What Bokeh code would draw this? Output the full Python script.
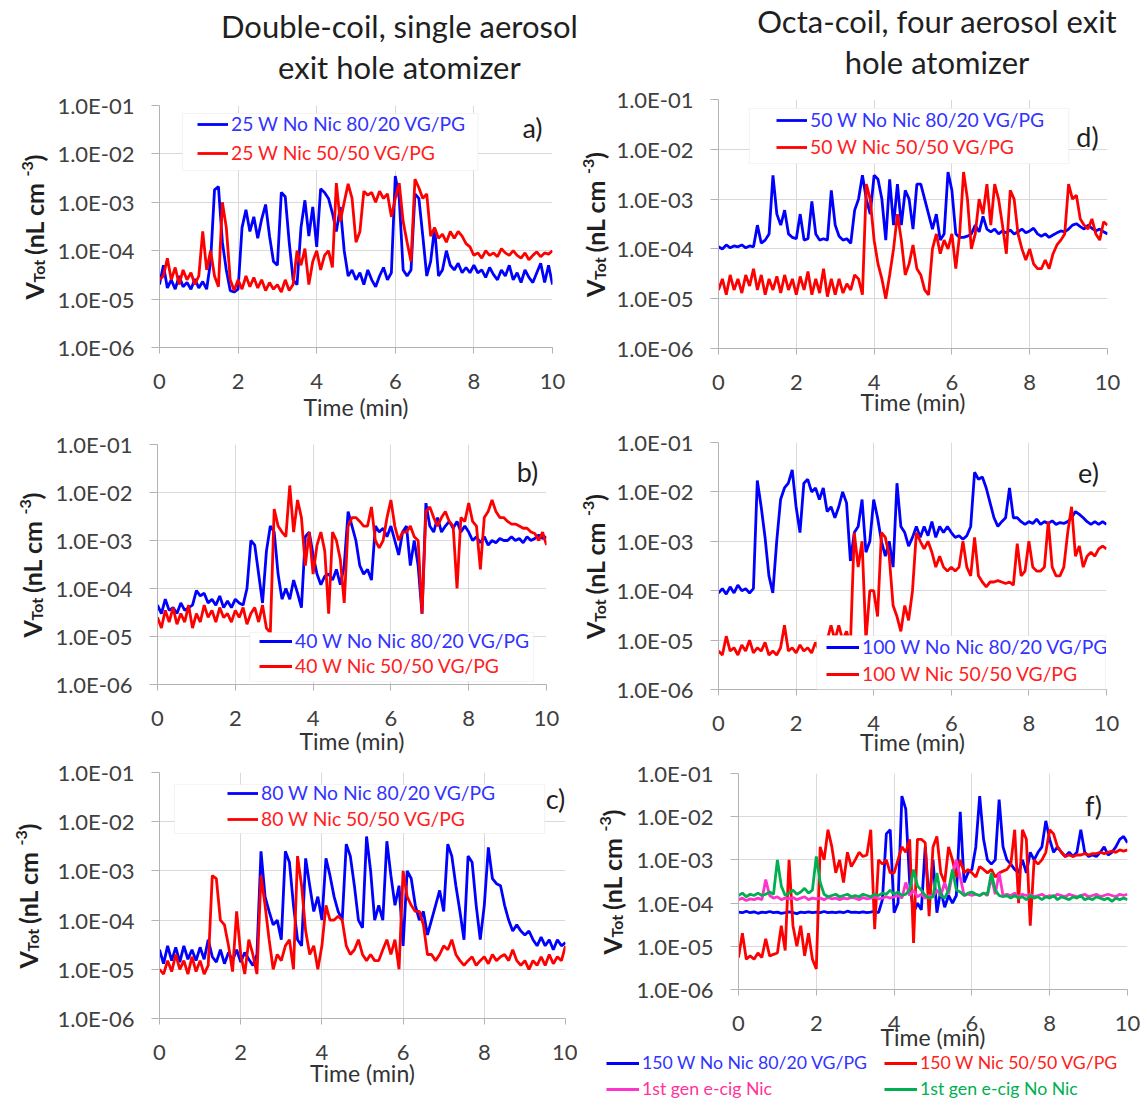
import math
from bokeh.plotting import figure
from bokeh.models import FixedTicker, Label, Legend, LegendItem, BoxAnnotation, Range1d, Div
from bokeh.layouts import column, row
from bokeh.embed import file_html
from bokeh.resources import INLINE

# ---------------- data (time in min, V_Tot in nL cm^-3) ----------------
TIME = [0.0, 0.1, 0.2, 0.3, 0.4, 0.5, 0.6, 0.7, 0.8, 0.9,
        1.0, 1.1, 1.2, 1.3, 1.4, 1.5, 1.6, 1.7, 1.8, 1.9,
        2.0, 2.1, 2.2, 2.3, 2.4, 2.5, 2.6, 2.7, 2.8, 2.9,
        3.0, 3.1, 3.2, 3.3, 3.4, 3.5, 3.6, 3.7, 3.8, 3.9,
        4.0, 4.1, 4.2, 4.3, 4.4, 4.5, 4.6, 4.7, 4.8, 4.9,
        5.0, 5.1, 5.2, 5.3, 5.4, 5.5, 5.6, 5.7, 5.8, 5.9,
        6.0, 6.1, 6.2, 6.3, 6.4, 6.5, 6.6, 6.7, 6.8, 6.9,
        7.0, 7.1, 7.2, 7.3, 7.4, 7.5, 7.6, 7.7, 7.8, 7.9,
        8.0, 8.1, 8.2, 8.3, 8.4, 8.5, 8.6, 8.7, 8.8, 8.9,
        9.0, 9.1, 9.2, 9.3, 9.4, 9.5, 9.6, 9.7, 9.8, 9.9,
        10.0]

A_BLUE = [2e-5, 5e-5, 1.7e-5, 2.5e-5, 1.6e-5, 3e-5, 1.8e-5, 2.2e-5, 1.6e-5, 2.6e-5,
          1.7e-5, 2.3e-5, 1.6e-5, 6e-5, 1.8e-3, 2.1e-3, 1.5e-4, 4e-5, 1.5e-5, 1.4e-5,
          1.6e-5, 3e-4, 7e-4, 2.5e-4, 5e-4, 1.8e-4, 4.5e-4, 9e-4, 2e-4, 6e-5,
          5e-5, 1.6e-3, 1.3e-3, 1.5e-4, 2.5e-5, 2e-5, 3e-4, 1.1e-3, 2e-4, 8e-4,
          1.2e-4, 1.9e-3, 1.6e-3, 1.2e-3, 6e-4, 2.5e-4, 8e-4, 1e-4, 3e-5, 4e-5,
          2.5e-5, 3.5e-5, 2e-5, 4e-5, 2.5e-5, 1.8e-5, 3e-5, 4.5e-5, 2.5e-5, 3.5e-5,
          3.5e-3, 1.2e-3, 4e-5, 3e-5, 4e-5, 1.5e-3, 1.2e-3, 2e-4, 3e-5, 6e-5,
          3e-4, 3e-5, 4e-5, 1e-4, 5e-5, 4e-5, 5.5e-5, 3.5e-5, 4.5e-5, 3.5e-5,
          5e-5, 3.5e-5, 4e-5, 2.8e-5, 4.5e-5, 3.2e-5, 2.5e-5, 4e-5, 3e-5, 5e-5,
          2.5e-5, 3.5e-5, 2.2e-5, 4e-5, 2.8e-5, 2.2e-5, 3.5e-5, 5.5e-5, 2.2e-5, 5e-5,
          2e-5]
A_RED = [2.5e-5, 3e-5, 7e-5, 2.5e-5, 4.5e-5, 2e-5, 4e-5, 2.5e-5, 3.5e-5, 2e-5,
         3e-5, 2.5e-4, 4e-5, 1e-4, 3e-5, 1.8e-5, 1e-3, 3e-4, 2.5e-5, 1.5e-5,
         2.5e-5, 1.6e-5, 3e-5, 1.8e-5, 2.8e-5, 1.7e-5, 2.5e-5, 1.5e-5, 2.2e-5, 1.6e-5,
         2e-5, 1.4e-5, 2.5e-5, 1.5e-5, 2e-5, 1e-4, 5e-5, 1.1e-4, 2e-5, 6e-5,
         1e-4, 4e-5, 8e-5, 1e-4, 4.5e-5, 2.5e-3, 4e-4, 1e-3, 2.4e-3, 1.2e-3,
         1.5e-4, 2.5e-4, 1.7e-3, 1.4e-3, 1.6e-3, 1e-3, 1.7e-3, 1.2e-3, 1.5e-3, 5e-4,
         1.2e-3, 2.5e-3, 4e-4, 1.5e-4, 6e-5, 3e-3, 2e-3, 1.2e-3, 1.5e-3, 2e-4,
         3e-4, 1.8e-4, 2.2e-4, 1.5e-4, 2.5e-4, 1.8e-4, 2.5e-4, 2e-4, 1.4e-4, 1.2e-4,
         8e-5, 9e-5, 7e-5, 1e-4, 8e-5, 9e-5, 7.5e-5, 1.1e-4, 9e-5, 8e-5,
         1e-4, 8e-5, 7e-5, 9e-5, 6.5e-5, 8e-5, 9.5e-5, 7.5e-5, 9e-5, 8.5e-5,
         1e-4]

B_BLUE = [4.5e-5, 3e-5, 6e-5, 3.5e-5, 4e-5, 3e-5, 5e-5, 3.5e-5, 4e-5, 4.5e-5,
          9e-5, 7e-5, 8e-5, 5e-5, 6e-5, 4.5e-5, 7e-5, 4e-5, 5.5e-5, 4e-5,
          6e-5, 5e-5, 4.5e-5, 1e-4, 1e-3, 8e-4, 2e-4, 5e-5, 6e-4, 2e-3,
          1.5e-3, 2e-4, 6e-5, 1e-4, 6e-5, 1.5e-4, 8e-5, 4e-5, 1.2e-3, 1.5e-3,
          5e-4, 2e-4, 1.2e-4, 1.8e-4, 2e-4, 1.5e-4, 2.5e-4, 1.2e-4, 3e-4, 4e-3,
          2e-3, 1e-3, 3e-4, 2e-4, 2.5e-4, 1.5e-4, 2e-3, 1.5e-3, 1.8e-3, 1.2e-3,
          2e-3, 1e-3, 5e-4, 1.5e-3, 2e-3, 3e-4, 1e-3, 3e-4, 3e-5, 6e-3,
          2e-3, 1.5e-3, 3e-3, 1.5e-3, 2e-3, 2.5e-3, 1.8e-3, 2.5e-3, 1.5e-3, 2e-3,
          1.5e-3, 1e-3, 1.2e-3, 9e-4, 1.2e-3, 8e-4, 1e-3, 9e-4, 1.1e-3, 1e-3,
          1e-3, 1.2e-3, 1e-3, 1.1e-3, 9e-4, 1.2e-3, 1e-3, 1.1e-3, 1.3e-3, 1.1e-3,
          1.2e-3]
B_RED = [2.5e-5, 1.5e-5, 3.5e-5, 2e-5, 4e-5, 1.8e-5, 3e-5, 2e-5, 4.5e-5, 1.5e-5,
         3e-5, 2e-5, 4.5e-5, 2.5e-5, 3.5e-5, 2e-5, 4e-5, 2.5e-5, 3e-5, 2e-5,
         3.5e-5, 2.5e-5, 4e-5, 1.8e-5, 3e-5, 4e-5, 2e-5, 4.5e-5, 1.5e-5, 1.2e-5,
         4.5e-3, 2e-3, 1.5e-3, 1.2e-3, 1.4e-2, 1.5e-3, 7e-3, 3e-3, 3e-4, 1.5e-3,
         2e-4, 8e-4, 1.5e-3, 6e-4, 3e-5, 1.5e-3, 1e-3, 4e-4, 5e-5, 2e-3,
         3e-3, 3e-3, 2.5e-3, 2e-3, 2e-3, 5e-3, 1e-3, 7e-4, 1e-3, 3e-3,
         7e-3, 2e-3, 1e-3, 1.5e-3, 1.5e-3, 2e-3, 1.2e-3, 1e-3, 3e-5, 4e-3,
         5e-3, 3e-3, 2e-3, 3e-3, 4e-3, 2.5e-3, 2e-3, 1e-4, 3e-3, 2.5e-3,
         6e-3, 2.5e-3, 2e-3, 2.5e-4, 3e-3, 4e-3, 7e-3, 4e-3, 3e-3, 3e-3,
         2.5e-3, 2.2e-3, 2.2e-3, 2e-3, 1.8e-3, 1.8e-3, 1.5e-3, 1.4e-3, 1e-3, 1.5e-3,
         8e-4]

C_BLUE = [2.5e-5, 1.3e-5, 3e-5, 1.5e-5, 2.8e-5, 1.4e-5, 3e-5, 1.6e-5, 2.5e-5, 1.5e-5,
          2.8e-5, 1.6e-5, 4e-5, 1.8e-5, 1.4e-5, 2.5e-5, 1.3e-5, 2.2e-5, 1.5e-5, 2.5e-5,
          1.4e-5, 2.2e-5, 1.6e-5, 1.2e-5, 2e-5, 2.5e-3, 3e-4, 1.5e-4, 8e-5, 1e-4,
          4e-5, 2.5e-3, 1.5e-3, 2e-4, 4e-5, 3e-5, 1.8e-3, 5e-4, 1.5e-4, 3e-4,
          1e-4, 1.8e-3, 8e-4, 3e-4, 1.5e-4, 1e-4, 3.5e-3, 2e-3, 5e-4, 1e-4,
          7e-5, 5e-3, 1e-3, 1e-4, 2e-4, 1e-4, 4e-3, 8e-4, 2e-4, 5e-4,
          3e-5, 1e-3, 7e-4, 2e-4, 1e-4, 1.5e-4, 5e-5, 1e-4, 2e-4, 4e-4,
          1.5e-4, 3.5e-3, 2e-3, 5e-4, 1.5e-4, 4e-5, 2e-3, 1.5e-3, 2e-4, 4e-5,
          2e-4, 3e-3, 7e-4, 5.5e-4, 5e-4, 2e-4, 1e-4, 6e-5, 8e-5, 6e-5,
          5e-5, 6e-5, 4e-5, 3e-5, 4.5e-5, 3e-5, 4e-5, 2.5e-5, 4e-5, 3e-5,
          3.5e-5]
C_RED = [1e-5, 8e-6, 1.5e-5, 9e-6, 2e-5, 1e-5, 1.5e-5, 8e-6, 1.8e-5, 9e-6,
         1.5e-5, 8e-6, 1.2e-5, 8e-4, 7e-4, 1e-4, 8e-5, 3e-5, 9e-6, 1.5e-4,
         2e-5, 8e-6, 4e-5, 2e-5, 8e-6, 8e-4, 2e-4, 4e-5, 1e-5, 2e-5,
         1.5e-5, 3e-5, 4e-5, 1e-5, 2e-3, 5e-4, 6e-5, 2e-5, 3e-5, 1e-5,
         3e-5, 2e-4, 1e-4, 1e-4, 1.2e-4, 1e-4, 3e-5, 2e-5, 2.5e-5, 4e-5,
         2e-5, 1.5e-5, 2e-5, 1.5e-5, 1.5e-5, 2.5e-5, 4e-5, 2e-5, 4e-5, 1e-5,
         1e-3, 3e-4, 2e-4, 1.5e-4, 1.5e-4, 8e-5, 2e-5, 2e-5, 1.5e-5, 2e-5,
         3e-5, 2.5e-5, 4e-5, 2e-5, 1.5e-5, 1.2e-5, 1.5e-5, 1.8e-5, 1.2e-5, 1.5e-5,
         1.8e-5, 1.3e-5, 2e-5, 1.5e-5, 1.8e-5, 2e-5, 1.5e-5, 2.5e-5, 1.5e-5, 1.2e-5,
         1.5e-5, 1e-5, 1.5e-5, 1.2e-5, 1.8e-5, 1.2e-5, 2e-5, 1.3e-5, 1.8e-5, 1.5e-5,
         3e-5]

D_BLUE = [1.1e-4, 1e-4, 1.2e-4, 1.05e-4, 1.15e-4, 1.1e-4, 1.2e-4, 1.05e-4, 1.15e-4, 1.1e-4,
          3e-4, 1.3e-4, 1.5e-4, 2e-4, 3e-3, 5e-4, 3e-4, 6e-4, 2e-4, 1.7e-4,
          1.6e-4, 5e-4, 1.5e-4, 1.6e-4, 9e-4, 2e-4, 1.5e-4, 1.6e-4, 1.5e-4, 1.5e-3,
          3e-4, 1.8e-4, 1.5e-4, 1.6e-4, 1.3e-4, 6e-4, 1e-3, 3e-3, 1e-3, 5e-4,
          3e-3, 2.5e-3, 1e-3, 1.5e-4, 2.5e-3, 3e-4, 2e-3, 3e-4, 1.5e-3, 1e-3,
          2.5e-4, 2e-3, 2e-3, 1e-3, 5e-4, 2.5e-4, 5e-4, 1.5e-4, 2e-4, 3.5e-3,
          1.5e-3, 2e-4, 1.7e-4, 1.7e-4, 1.8e-4, 2e-4, 3e-4, 2.2e-4, 4.5e-4, 2.5e-4,
          2.2e-4, 2.5e-4, 2e-4, 2.3e-4, 2.1e-4, 2.4e-4, 2e-4, 2.2e-4, 2.5e-4, 2.1e-4,
          2.3e-4, 2.6e-4, 2e-4, 1.8e-4, 2e-4, 1.7e-4, 1.9e-4, 2.1e-4, 2.3e-4, 2.2e-4,
          2.5e-4, 3e-4, 3.2e-4, 2.8e-4, 2.5e-4, 3e-4, 2.6e-4, 2.3e-4, 2.5e-4, 2.2e-4,
          2e-4]
D_RED = [1.5e-5, 2.5e-5, 1.2e-5, 3e-5, 1.5e-5, 2.5e-5, 1.3e-5, 3e-5, 1.8e-5, 4e-5,
         1.5e-5, 3e-5, 1.2e-5, 2.5e-5, 1.5e-5, 2.8e-5, 1.3e-5, 3e-5, 1.5e-5, 2.5e-5,
         1.2e-5, 2.8e-5, 1.5e-5, 3.5e-5, 1.2e-5, 2.5e-5, 1.3e-5, 4e-5, 1.1e-5, 2.5e-5,
         1.2e-5, 2.5e-5, 1.3e-5, 2e-5, 1.5e-5, 3e-5, 2.5e-5, 1.2e-5, 2e-3, 1e-3,
         1.5e-4, 5e-5, 2.5e-5, 1e-5, 3e-5, 1e-4, 5e-4, 1.5e-4, 3e-5, 5e-5,
         1.2e-4, 4e-5, 3e-5, 1.5e-5, 1.2e-5, 1e-4, 2e-4, 8e-5, 1.5e-4, 1e-4,
         2e-4, 4e-5, 2e-4, 3.5e-3, 1e-3, 1e-4, 2e-4, 1e-3, 5e-4, 2e-3,
         3e-4, 2e-3, 1e-3, 3e-4, 8e-5, 1.5e-3, 1e-3, 2e-4, 1e-4, 6e-5,
         1e-4, 5e-5, 4e-5, 4e-5, 6e-5, 4e-5, 8e-5, 1.2e-4, 1.5e-4, 2e-4,
         2e-3, 1e-3, 1.2e-3, 4e-4, 3e-4, 2.5e-4, 4e-4, 2e-4, 1.5e-4, 3.5e-4,
         3e-4]

E_BLUE = [9e-5, 1.1e-4, 8.5e-5, 1.2e-4, 9e-5, 1.3e-4, 1e-4, 1.1e-4, 9e-5, 1.1e-4,
          1.7e-2, 5e-3, 1.2e-3, 2e-4, 9e-5, 1e-3, 7e-3, 1.2e-2, 1.5e-2, 2.8e-2,
          5e-3, 1.5e-3, 1.5e-2, 1.8e-2, 1e-2, 1.2e-2, 7e-3, 1.2e-2, 4e-3, 5e-3,
          3e-3, 5e-3, 1e-2, 6e-3, 4e-4, 1.5e-3, 2e-3, 7e-3, 6e-4, 1e-3,
          7e-3, 3e-3, 1e-3, 5e-4, 1e-3, 3e-4, 1.5e-2, 2e-3, 1.5e-3, 8e-4,
          1.2e-3, 2e-3, 1.2e-3, 2e-3, 1.3e-3, 2.5e-3, 1.2e-3, 2e-3, 1.5e-3, 2e-3,
          1.5e-3, 1.2e-3, 1.3e-3, 1.1e-3, 1.3e-3, 2e-3, 2.5e-2, 1.8e-2, 2e-2, 1.2e-2,
          6e-3, 3e-3, 2e-3, 2.5e-3, 3e-3, 1.2e-2, 3e-3, 3e-3, 2.5e-3, 2.2e-3,
          2.5e-3, 2.3e-3, 2.8e-3, 2.2e-3, 2.5e-3, 2.3e-3, 2.6e-3, 2.2e-3, 2.4e-3, 2.3e-3,
          2.5e-3, 3e-3, 4e-3, 3.5e-3, 3e-3, 2.5e-3, 2.2e-3, 2.5e-3, 2.2e-3, 2.5e-3,
          2.2e-3]
E_RED = [6e-6, 5e-6, 1.2e-5, 6e-6, 7e-6, 5e-6, 8e-6, 6e-6, 1e-5, 5.5e-6,
         7e-6, 6e-6, 9e-6, 5e-6, 6e-6, 5e-6, 7e-6, 2e-5, 6e-6, 7e-6,
         5.5e-6, 8e-6, 6e-6, 7e-6, 5.5e-6, 9e-6, 6e-6, 6e-6, 1e-5, 2e-5,
         1e-5, 2e-5, 1e-5, 1.5e-5, 8e-6, 1.5e-3, 3e-4, 1e-3, 1e-5, 1e-4,
         1e-4, 3e-5, 1.5e-3, 1.2e-3, 5e-4, 5e-5, 3e-5, 1.5e-5, 5e-5, 2.5e-5,
         1e-4, 1.5e-3, 1e-3, 7e-4, 1e-3, 6e-4, 3e-4, 5e-4, 3e-4, 2.5e-4,
         3e-4, 2.5e-4, 3e-4, 1e-3, 3e-4, 2e-4, 1.2e-3, 2e-4, 1.5e-4, 1.2e-4,
         1.5e-4, 1.5e-4, 1.6e-4, 1.5e-4, 1.4e-4, 1.5e-4, 1.3e-4, 9e-4, 2e-4, 2.5e-4,
         1e-3, 3e-4, 2.5e-4, 2.5e-4, 3e-4, 2.5e-3, 3e-4, 2e-4, 2e-4, 3e-4,
         1.5e-3, 5e-3, 5e-4, 8e-4, 3e-4, 5e-4, 6e-4, 5e-4, 7e-4, 8e-4,
         7e-4]

F_BLUE = [6.2e-5, 6e-5, 6.5e-5, 6e-5, 6.3e-5, 5.8e-5, 6.2e-5, 6e-5, 6.4e-5, 6e-5,
          6.2e-5, 5.8e-5, 6e-5, 6.3e-5, 6e-5, 5.7e-5, 6.2e-5, 6e-5, 6.3e-5, 6e-5,
          6.2e-5, 6e-5, 6.4e-5, 6e-5, 6.2e-5, 6e-5, 6.3e-5, 6e-5, 6.5e-5, 6.1e-5,
          6.2e-5, 6e-5, 6.3e-5, 6e-5, 6.2e-5, 6.5e-5, 6e-5, 1.2e-4, 4e-3, 5e-3,
          6e-5, 1e-4, 3e-2, 1.5e-2, 3e-4, 6e-5, 1e-4, 7e-5, 2e-3, 1e-4,
          1e-3, 6e-5, 2e-4, 8e-5, 1.5e-4, 1e-4, 1.5e-4, 1.3e-2, 3e-4, 5e-4,
          6e-4, 2e-3, 3e-2, 3e-3, 1e-3, 8e-4, 1e-3, 2.5e-2, 2e-3, 1e-3,
          8e-4, 6e-4, 5e-4, 1e-3, 5e-4, 1.5e-3, 1e-3, 1.5e-3, 2e-3, 8e-3,
          3e-3, 1.5e-3, 2e-3, 1.5e-3, 1.2e-3, 1.5e-3, 1.2e-3, 1.5e-3, 5e-3, 1.5e-3,
          1.2e-3, 1.3e-3, 1.2e-3, 1.5e-3, 2e-3, 1.3e-3, 1.5e-3, 2e-3, 3e-3, 3.5e-3,
          2.5e-3]
F_RED = [5.5e-6, 2e-5, 5e-6, 6e-6, 5e-6, 7e-6, 5.5e-6, 1.5e-5, 6e-6, 6.5e-6,
         7e-6, 3e-5, 8e-6, 1e-3, 3e-5, 1e-5, 3e-5, 6e-6, 2e-5, 5e-6,
         3e-6, 2e-3, 1e-3, 5e-3, 2e-3, 5e-4, 1e-3, 3e-4, 1.5e-3, 7e-4,
         1e-3, 1.5e-3, 1.2e-3, 1.3e-3, 5e-3, 2.5e-5, 1e-3, 8e-4, 1e-3, 5e-4,
         5e-4, 1e-3, 2e-3, 1.5e-3, 3e-3, 1.2e-5, 3e-3, 3e-3, 2.5e-3, 5e-5,
         2e-3, 3.5e-3, 5e-4, 3e-4, 2e-3, 1e-3, 4e-4, 1e-3, 5e-4, 6e-4,
         5e-4, 4e-4, 7e-4, 6e-4, 5e-4, 6e-4, 4e-4, 5e-4, 5.5e-4, 6e-4,
         8e-4, 5e-3, 1e-4, 5e-3, 3e-3, 3e-5, 1e-3, 8e-4, 1e-3, 1.5e-3,
         5e-3, 4e-3, 2e-3, 1.5e-3, 1.2e-3, 1.3e-3, 1.2e-3, 1.3e-3, 1.3e-3, 1.4e-3,
         1.3e-3, 1.4e-3, 1.4e-3, 1.5e-3, 1.4e-3, 1.5e-3, 1.6e-3, 1.5e-3, 1.7e-3, 1.6e-3,
         1.7e-3]
F_PINK = [1.2e-4, 1.3e-4, 1.15e-4, 1.25e-4, 1.2e-4, 1.3e-4, 1.2e-4, 3.5e-4, 1.5e-4, 1.3e-4,
          1.4e-4, 1.2e-4, 1.3e-4, 1.25e-4, 1.35e-4, 1.2e-4, 1.3e-4, 1.4e-4, 1.2e-4, 1.3e-4,
          1.25e-4, 1.3e-4, 1.2e-4, 1.35e-4, 1.25e-4, 1.3e-4, 1.2e-4, 1.3e-4, 1.25e-4, 1.35e-4,
          1.3e-4, 1.2e-4, 1.35e-4, 1.25e-4, 1.3e-4, 1.4e-4, 1.25e-4, 1.3e-4, 1.4e-4, 1.3e-4,
          1.4e-4, 1.5e-4, 1.3e-4, 3e-4, 1.5e-4, 2e-4, 1.4e-4, 1.6e-4, 1.3e-4, 1.5e-4,
          1.4e-4, 2e-4, 1.5e-4, 3e-4, 1.6e-4, 5e-4, 1e-3, 4e-4, 1.5e-4, 1.6e-4,
          1.5e-4, 1.6e-4, 1.5e-4, 1.7e-4, 1.5e-4, 4e-4, 1.6e-4, 5e-4, 1.5e-4, 1.6e-4,
          1.5e-4, 1.7e-4, 1.4e-4, 1.6e-4, 1.5e-4, 1.6e-4, 1.4e-4, 1.5e-4, 1.6e-4, 1.4e-4,
          1.5e-4, 1.4e-4, 1.6e-4, 1.5e-4, 1.4e-4, 1.6e-4, 1.5e-4, 1.4e-4, 1.5e-4, 1.6e-4,
          1.4e-4, 1.5e-4, 1.6e-4, 1.4e-4, 1.5e-4, 1.6e-4, 1.5e-4, 1.4e-4, 1.6e-4, 1.5e-4,
          1.6e-4]
F_GREEN = [1.5e-4, 1.7e-4, 1.4e-4, 1.6e-4, 1.5e-4, 1.7e-4, 1.5e-4, 1.6e-4, 1.8e-4, 1.6e-4,
           1e-3, 2.5e-4, 1.5e-4, 1.7e-4, 2e-4, 1.6e-4, 1.8e-4, 2.2e-4, 1.7e-4, 2e-4,
           1.2e-3, 3e-4, 1.6e-4, 1.4e-4, 1.5e-4, 1.6e-4, 1.4e-4, 1.5e-4, 1.6e-4, 1.4e-4,
           1.5e-4, 1.4e-4, 1.6e-4, 1.5e-4, 1.4e-4, 1.6e-4, 1.5e-4, 1.7e-4, 1.6e-4, 2e-4,
           1.6e-4, 1.8e-4, 1.5e-4, 1.6e-4, 2e-4, 6e-4, 2.5e-4, 2e-4, 1.5e-4, 1.3e-4,
           1.4e-4, 5e-4, 1.5e-4, 1.3e-4, 2e-4, 6e-4, 2e-4, 1.8e-4, 1.5e-4, 1.7e-4,
           1.8e-4, 1.6e-4, 1.5e-4, 1.7e-4, 1.6e-4, 5e-4, 2e-4, 1.5e-4, 1.4e-4, 1.5e-4,
           1.3e-4, 1.5e-4, 1.3e-4, 1.4e-4, 1.2e-4, 1.5e-4, 1.3e-4, 1.4e-4, 1.2e-4, 1.4e-4,
           1.3e-4, 1.5e-4, 1.2e-4, 1.4e-4, 1.3e-4, 1.2e-4, 1.4e-4, 1.3e-4, 1.5e-4, 1.2e-4,
           1.3e-4, 1.2e-4, 1.4e-4, 1.3e-4, 1.2e-4, 1.3e-4, 1.1e-4, 1.3e-4, 1.2e-4, 1.3e-4,
           1.2e-4]

X_TICKS = [0, 2, 4, 6, 8, 10]
Y_TICKS = [1e-6, 1e-5, 1e-4, 1e-3, 1e-2, 1e-1]
Y_TICK_LABELS = ["1.0E-06", "1.0E-05", "1.0E-04", "1.0E-03", "1.0E-02", "1.0E-01"]

TITLE_LEFT = ["Double-coil, single aerosol", "exit hole atomizer"]
TITLE_RIGHT = ["Octa-coil, four aerosol exit", "hole atomizer"]

# ---------------- styling ----------------
FONT = "Lato"
BLUE, RED, PINK, GREEN = "#0000ff", "#ff0000", "#ff33cc", "#00b050"
BLUE_T, RED_T, PINK_T, GREEN_T = "#3333ff", "#ff2020", "#ff3399", "#00b050"
GRID = "#d9d9d9"
AXIS = "#b3b3b3"
TXT = "#404040"
DARK = "#1f1f1f"
LW = 2.8

LATO_BOLD = {"V": 0.68, "T": 0.59, "o": 0.57, "t": 0.37, " ": 0.22, "(": 0.32,
             "n": 0.57, "L": 0.48, "c": 0.47, "m": 0.86, "-": 0.36, "3": 0.58, ")": 0.32}


def bare(W, H, xr, yr, top=0, bottom=0):
    f = figure(width=W, height=H, x_range=xr, y_range=yr, output_backend="svg",
               toolbar_location=None, x_axis_location=None, y_axis_location=None,
               min_border_left=0, min_border_right=0, min_border_top=top,
               min_border_bottom=bottom)
    f.grid.visible = False
    f.outline_line_color = None
    f.background_fill_color = "white"
    f.border_fill_color = "white"
    return f


def legend_for(r, lab, tcol, dx, dy, gw=31, fs="19.3px"):
    return Legend(items=[LegendItem(label=lab, renderers=[r])], location=(dx, dy),
                  glyph_width=gw, glyph_height=20, label_height=20,
                  label_standoff=3, padding=0, margin=0, spacing=0,
                  border_line_color=None, background_fill_alpha=0,
                  label_text_font=FONT, label_text_font_size=fs,
                  label_text_color=tcol)


def make_unit(g):
    ox, oy, W, H = g["box"]
    fl, fr, ft, fb = g["frame"]
    S = g["strip"]
    top, bottom = ft - oy, oy + H - fb
    fh = fb - ft

    # strip holding the rotated y-axis title V_Tot (nL cm-3)
    st = bare(S, H, Range1d(0, S), Range1d(0, fh), top, bottom)
    cx = g["ylab_x"] - ox
    pieces = [("V", 25, 0, 0), ("Tot", 16, 5, 3), (" (nL cm", 25, 0, 0), ("-3", 16, -6, 0), (")", 25, 0, 0)]
    widths = [sum(LATO_BOLD[c] for c in s) * fs + gap for s, fs, _, gap in pieces]
    acc = fh / 2 - sum(widths) / 2
    for (s, fs, sh, gap), w in zip(pieces, widths):
        st.add_layout(Label(x=cx + sh, y=acc, text=s, angle=math.pi / 2,
                            text_align="left", text_baseline="middle",
                            text_font=FONT, text_font_style="bold",
                            text_font_size=f"{fs}px", text_color=DARK))
        acc += w

    # the panel itself
    p = figure(width=W - S, height=H, x_range=Range1d(0, 10), y_range=Range1d(1e-6, 1e-1),
               y_axis_type="log", output_backend="svg", toolbar_location=None,
               min_border_left=fl - ox - S, min_border_right=ox + W - fr,
               min_border_top=top, min_border_bottom=bottom)
    p.outline_line_color = None
    p.background_fill_color = "white"
    p.border_fill_color = "white"
    p.xaxis.ticker = FixedTicker(ticks=X_TICKS)
    p.yaxis.ticker = FixedTicker(ticks=Y_TICKS)
    p.yaxis.major_label_overrides = dict(zip(Y_TICKS, Y_TICK_LABELS))
    for ax in (p.xaxis, p.yaxis):
        ax.axis_line_color = AXIS
        ax.major_tick_line_color = AXIS
        ax.minor_tick_line_color = None
        ax.major_tick_in = 0
        ax.major_label_text_font = FONT
        ax.major_label_text_font_size = "22px"
        ax.major_label_text_color = TXT
    p.yaxis.major_tick_out = 8
    p.yaxis.major_label_standoff = 17
    p.xaxis.major_tick_out = 6
    p.xaxis.major_label_standoff = 20
    p.xaxis.axis_label = "Time (min)"
    p.xaxis.axis_label_text_font = FONT
    p.xaxis.axis_label_text_font_size = "23px"
    p.xaxis.axis_label_text_font_style = "normal"
    p.xaxis.axis_label_text_color = "#333333"
    p.xaxis.axis_label_standoff = g["time_gap"] - 59
    p.xgrid.grid_line_color = GRID
    p.ygrid.grid_line_color = GRID

    rends = [p.line(TIME, vals, line_color=col, line_width=LW) for vals, col in g["series"]]

    if g.get("legbox"):
        X1, Y1, X2, Y2 = g["legbox"]
        tx = lambda X: (X - fl) / (fr - fl) * 10
        ty = lambda Y: 10 ** (-6 + (fb - Y) / fh * 5)
        p.add_layout(BoxAnnotation(left=tx(X1), right=tx(X2), top=ty(Y1), bottom=ty(Y2),
                                   fill_color="white", fill_alpha=1.0,
                                   line_color=GRID, line_width=1.2))
    for r, (lab, tcol, X, Y) in zip(rends, g["legend"]):
        p.add_layout(legend_for(r, lab, tcol, X - fl, fb - (Y + 9), g.get("gw", 31)))

    LX, LY = g["letter_pos"]
    p.add_layout(Label(x=0, y=1e-6, x_offset=LX - fl, y_offset=fb - LY, text=g["letter"],
                       text_align="center", text_baseline="middle", text_font=FONT,
                       text_font_size="27px", text_color=DARK))
    return row(st, p), rends


def title_div(W, H, lines, pad_top, pad_left):
    return Div(text="<br>".join(lines), width=W, height=H, margin=0,
               styles={"font-family": FONT, "font-size": "31px", "line-height": "41px",
                       "text-align": "center", "color": DARK,
                       "padding-top": f"{pad_top}px", "padding-left": f"{pad_left}px",
                       "box-sizing": "border-box", "white-space": "nowrap"})


panels = {
    "a": dict(box=(0, 91, 577, 339), frame=(157, 552, 105, 347), strip=54,
              series=[(A_BLUE, BLUE), (A_RED, RED)],
              legbox=(180, 113, 477, 170),
              legend=[("25 W No Nic 80/20 VG/PG", BLUE_T, 195, 126),
                      ("25 W Nic 50/50 VG/PG", RED_T, 195, 155)],
              letter="a)", letter_pos=(530, 127), time_gap=60, ylab_x=33),
    "b": dict(box=(0, 430, 577, 328), frame=(154, 546, 444, 684), strip=52,
              series=[(B_BLUE, BLUE), (B_RED, RED)],
              legbox=(247, 632, 533, 681), gw=33,
              legend=[("40 W No Nic 80/20 VG/PG", BLUE_T, 256, 643),
                      ("40 W Nic 50/50 VG/PG", RED_T, 256, 668)],
              letter="b)", letter_pos=(524, 471), time_gap=57, ylab_x=31),
    "c": dict(box=(0, 758, 577, 342), frame=(157, 565, 772, 1018), strip=54,
              series=[(C_BLUE, BLUE), (C_RED, RED)],
              legbox=(172, 784, 544, 833),
              legend=[("80 W No Nic 80/20 VG/PG", BLUE_T, 225, 795),
                      ("80 W Nic 50/50 VG/PG", RED_T, 225, 821)],
              letter="c)", letter_pos=(553, 798), time_gap=55, ylab_x=27),
    "d": dict(box=(577, 85, 570, 343), frame=(716, 1107, 99, 348), strip=36,
              series=[(D_BLUE, BLUE), (D_RED, RED)],
              legbox=(747, 108, 1068, 163),
              legend=[("50 W No Nic 80/20 VG/PG", BLUE_T, 774, 122),
                      ("50 W Nic 50/50 VG/PG", RED_T, 774, 149)],
              letter="d)", letter_pos=(1085, 136), time_gap=54, ylab_x=594),
    "e": dict(box=(577, 428, 570, 331), frame=(715, 1106, 442, 689), strip=36,
              series=[(E_BLUE, BLUE), (E_RED, RED)],
              legbox=(814, 635, 1105, 689), gw=33,
              legend=[("100 W No Nic 80/20 VG/PG", BLUE_T, 823, 649),
                      ("100 W Nic 50/50 VG/PG", RED_T, 823, 676)],
              letter="e)", letter_pos=(1085, 472), time_gap=53, ylab_x=594),
    "f": dict(box=(577, 759, 570, 294), frame=(737, 1127, 773, 989), strip=56,
              series=[(F_BLUE, BLUE), (F_RED, RED), (F_PINK, PINK), (F_GREEN, GREEN)],
              legbox=None, legend=[],
              letter="f)", letter_pos=(1092, 805), time_gap=48, ylab_x=611),
}

units = {k: make_unit(v) for k, v in panels.items()}

# legend of panel f, placed below that plot; its keys reuse the panel-f series
# (drawn outside this strip's visible x-range, so only the legend keys show)
LF_TOP, LF_BOTTOM = 1053, 1100
lf = bare(570, LF_BOTTOM - LF_TOP, Range1d(20, 30), Range1d(0, 1))
f_items = [("150 W No Nic 80/20 VG/PG", F_BLUE, BLUE, BLUE_T, 606, 1064),
           ("150 W Nic 50/50 VG/PG", F_RED, RED, RED_T, 884, 1064),
           ("1st gen e-cig Nic", F_PINK, PINK, PINK_T, 606, 1090),
           ("1st gen e-cig No Nic", F_GREEN, GREEN, GREEN_T, 884, 1090)]
for lab, vals, col, tcol, X, Y in f_items:
    key = lf.line(TIME, vals, line_color=col, line_width=LW)
    lf.add_layout(legend_for(key, lab, tcol, X - 577, LF_BOTTOM - (Y + 9), 33, "17.7px"))

tl = title_div(577, 91, TITLE_LEFT, 6, 221)
tr = title_div(570, 85, TITLE_RIGHT, 1, 150)

layout = row(column(tl, units["a"][0], units["b"][0], units["c"][0]),
             column(tr, units["d"][0], units["e"][0], units["f"][0], lf))

open("out.html", "w").write(file_html(layout, INLINE))
